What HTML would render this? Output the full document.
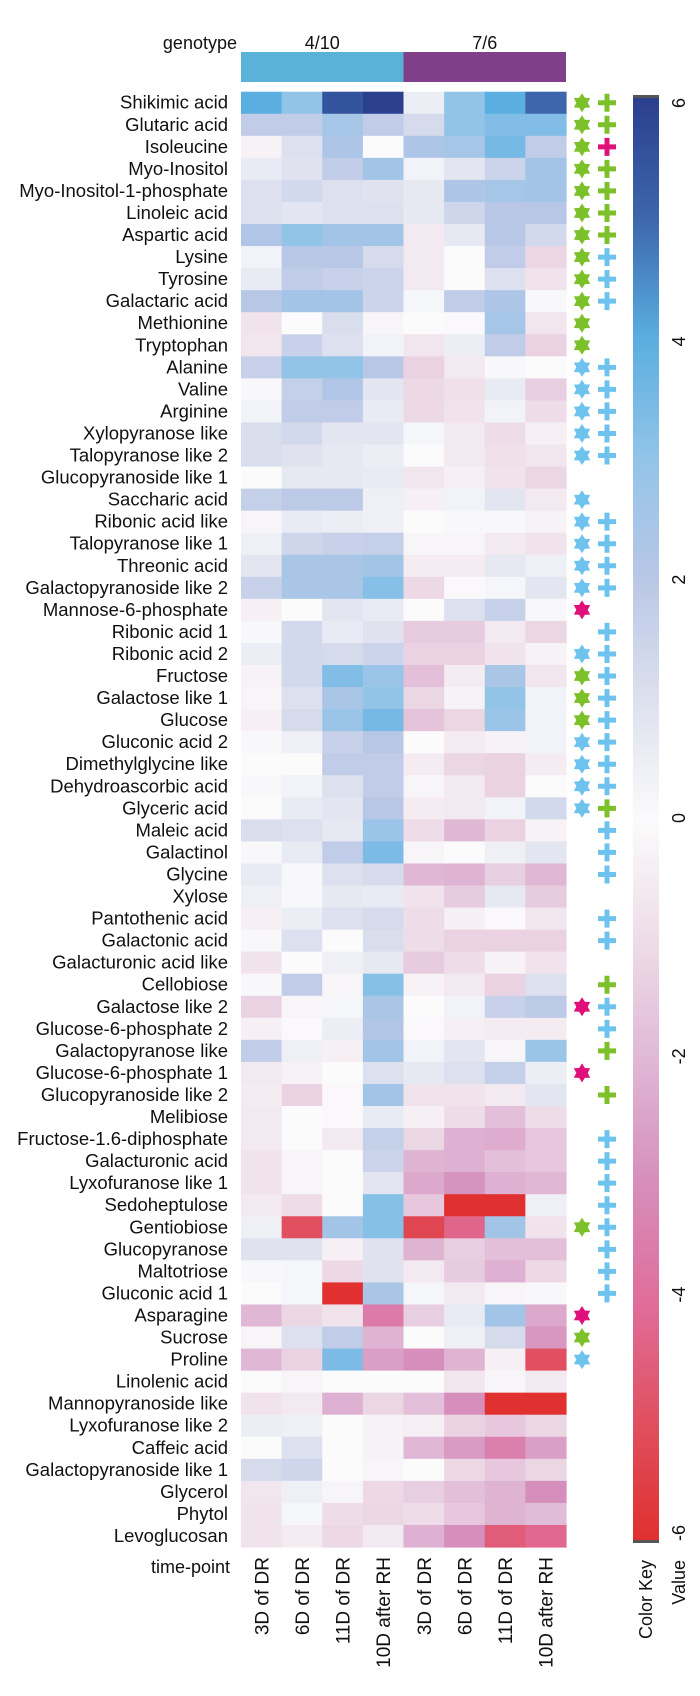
<!DOCTYPE html>
<html><head><meta charset="utf-8"><style>
html,body{margin:0;padding:0;background:#fff;width:700px;height:1696px;overflow:hidden}
svg{display:block;font-family:"Liberation Sans",Arial,sans-serif}
</style></head><body>
<svg id="chart" width="700" height="1696" viewBox="0 0 700 1696" xmlns="http://www.w3.org/2000/svg">
<defs>
<linearGradient id="cg" x1="0" y1="0" x2="0" y2="1">
<stop offset="0" stop-color="#2b3f8f"/>
<stop offset="0.0833" stop-color="#3d66ac"/>
<stop offset="0.1667" stop-color="#5aaee0"/>
<stop offset="0.25" stop-color="#92c4e8"/>
<stop offset="0.3333" stop-color="#b9c7e6"/>
<stop offset="0.4167" stop-color="#dde0ee"/>
<stop offset="0.5" stop-color="#fbfbfc"/>
<stop offset="0.5833" stop-color="#eedde8"/>
<stop offset="0.6667" stop-color="#e0b8d6"/>
<stop offset="0.75" stop-color="#d68fbc"/>
<stop offset="0.8333" stop-color="#e06e9c"/>
<stop offset="0.9167" stop-color="#e05060"/>
<stop offset="1" stop-color="#e03030"/>
</linearGradient>
</defs>
<g id="heat"></g>
<g id="labels"></g>
<g id="syms"></g>
<g id="cols"></g>
<g id="key"></g>
</svg>
<script>
const metabolites = ["Shikimic acid","Glutaric acid","Isoleucine","Myo-Inositol","Myo-Inositol-1-phosphate","Linoleic acid","Aspartic acid","Lysine","Tyrosine","Galactaric acid","Methionine","Tryptophan","Alanine","Valine","Arginine","Xylopyranose like","Talopyranose like 2","Glucopyranoside like 1","Saccharic acid","Ribonic acid like","Talopyranose like 1","Threonic acid","Galactopyranoside like 2","Mannose-6-phosphate","Ribonic acid 1","Ribonic acid 2","Fructose","Galactose like 1","Glucose","Gluconic acid 2","Dimethylglycine like","Dehydroascorbic acid","Glyceric acid","Maleic acid","Galactinol","Glycine","Xylose","Pantothenic acid","Galactonic acid","Galacturonic acid like","Cellobiose","Galactose like 2","Glucose-6-phosphate 2","Galactopyranose like","Glucose-6-phosphate 1","Glucopyranoside like 2","Melibiose","Fructose-1.6-diphosphate","Galacturonic acid","Lyxofuranose like 1","Sedoheptulose","Gentiobiose","Glucopyranose","Maltotriose","Gluconic acid 1","Asparagine","Sucrose","Proline","Linolenic acid","Mannopyranoside like","Lyxofuranose like 2","Caffeic acid","Galactopyranoside like 1","Glycerol","Phytol","Levoglucosan"];
const timepoints = ["3D of DR","6D of DR","11D of DR","10D after RH","3D of DR","6D of DR","11D of DR","10D after RH"];
const genotypes = ["4/10","7/6"];
const values = [
[4,3,5.5,6,0.5,3,4,5],
[1.8,1.8,2.5,1.8,1.2,3,3.3,3.3],
[-0.3,1,2.3,0,2.3,2.5,3.5,1.8],
[0.6,0.9,1.8,2.6,0.3,0.8,1.5,2.6],
[1,1.3,1,0.9,0.7,2.3,2.5,2.6],
[1,0.8,1,1,0.7,1.4,2,2],
[2.2,3,2.6,2.6,-0.6,0.7,2,1.3],
[0.3,2,2,1.2,-0.6,0,1.8,-1.2],
[0.6,1.8,1.6,1.5,-0.6,0,1,-0.8],
[2,2.6,2.6,1.5,0.2,1.8,2.3,0.1],
[-0.8,0,1.1,-0.2,0,-0.1,2.5,-0.7],
[-0.7,1.6,1,0.3,-0.7,0.5,1.8,-1.3],
[1.6,3,3,2,-1.3,-0.6,0.1,0],
[0.1,1.7,2.2,0.8,-1.1,-0.9,0.6,-1.4],
[0.3,1.8,1.8,0.6,-1.1,-0.8,0.3,-1],
[1.1,1.3,0.8,0.8,0.2,-0.6,-1,-0.4],
[1.1,0.9,0.7,0.5,0,-0.6,-0.9,-0.7],
[0,0.7,0.7,0.6,-0.7,-0.4,-0.8,-1.2],
[1.7,1.9,1.9,0.4,-0.4,0.3,0.8,-0.6],
[-0.2,0.6,0.5,0.4,0,0.1,0.1,-0.3],
[0.4,1.4,1.6,1.7,-0.2,-0.2,-0.6,-0.8],
[0.8,2.4,2.4,2.6,-0.5,-0.5,0.7,0.4],
[1.6,2.4,2.4,3.2,-1.1,-0.1,0.2,0.8],
[-0.4,0,0.8,0.6,0,1,1.6,0.1],
[0.1,1.3,0.6,0.9,-1.5,-1.5,-0.6,-1.2],
[0.5,1.3,1.2,1.5,-1.3,-1.3,-0.8,-0.3],
[-0.3,1.3,3.3,2.8,-1.8,-0.5,2.4,-0.7],
[-0.2,1,2.4,3,-1.2,-0.3,3,0.3],
[-0.4,1.2,2.8,3.5,-1.7,-1.2,2.8,0.3],
[0.1,0.4,1.6,2,0,-0.5,-0.3,0.3],
[0,0,1.8,1.8,-0.5,-1.2,-1.3,-0.5],
[0.1,0.3,1,1.8,-0.2,-0.6,-1.3,0],
[0,0.6,0.8,2,-0.5,-0.6,0.3,1.3],
[1.1,1,0.7,2.8,-1,-2,-1.3,-0.3],
[0.1,0.6,1.8,3.4,-0.2,0,0.4,0.8],
[0.6,0.1,1,1.2,-2,-2.1,-1.4,-2],
[0.4,0.1,0.7,0.6,-0.8,-1.5,0.7,-1.5],
[-0.4,0.5,1,1.2,-1,-0.4,-0.1,-0.7],
[0.1,1,0,1.1,-1,-1.3,-1.3,-1.3],
[-0.8,0,0.4,0.7,-1.5,-1,-0.3,-0.8],
[0.1,1.8,-0.2,3.2,-0.3,-0.6,-1.3,1],
[-1.3,-0.2,0.2,2.4,0,0.3,1.6,1.9],
[-0.4,-0.1,0.5,2.2,-0.1,-0.4,-0.5,-0.5],
[1.8,0.4,-0.4,2.6,0.3,0.8,-0.2,2.8],
[-0.6,-0.3,0,1,0.7,1,1.7,0.5],
[-0.5,-1.3,-0.1,2.6,-0.8,-0.8,-0.6,0.8],
[-0.6,0,-0.1,0.6,-0.4,-1,-1.8,-1],
[-0.6,0,-0.6,1.7,-1.2,-2.2,-2.3,-1.6],
[-0.8,-0.2,0,1.5,-2.1,-2.2,-1.8,-1.6],
[-0.8,-0.2,0,0.8,-2.4,-2.9,-2.2,-2],
[-0.6,-1,0,3.2,-1.6,-6,-6,0.4],
[0.4,-5,2.6,3.2,-5.3,-4.3,2.6,-0.8],
[0.9,0.9,-0.4,0.9,-2.1,-1.4,-1.8,-1.8],
[0.1,0.2,-1.1,0.9,-0.6,-1.5,-2.2,-1.1],
[0,0.2,-6,2.4,0.2,-0.6,-0.2,0.1],
[-2,-1.2,-0.8,-3.6,-1.4,0.6,2.6,-2.4],
[-0.2,1,1.8,-2.1,0,0.4,1.2,-2.8],
[-2,-1.3,3.4,-2.6,-3,-2.1,-0.4,-5],
[0,-0.2,0,0,0,-0.7,-0.2,-0.6],
[-0.8,-0.6,-2.2,-1.2,-1.8,-3,-6,-6],
[0.5,0.4,0,-0.3,-0.4,-1.3,-1.6,-1.2],
[0,1,0,-0.3,-2,-2.7,-3.5,-2.6],
[1.2,1.4,0,-0.2,0,-1.1,-1.6,-1.2],
[-0.7,0.4,-0.2,-1.1,-1.4,-1.8,-2.1,-3],
[-0.8,0.2,-1,-1.2,-1,-1.6,-2.1,-1.9],
[-0.8,-0.5,-1.1,-0.6,-2.2,-3,-4.6,-4.2]
];
const stars = "gggggggggggg bbbbb _ bbbbb m _ b ggg bbbb ________ m __ m ______ g ___ m g b ________".replace(/ /g,"").split("");
const pluses = "gg m gggg bbb __ bbbbb __ bbbb _ bbbbbbbb g bbb _ bb _ g bb g _ g _ bbbbbbbb ___________".replace(/ /g,"").split("");
const keyTicks = [6,4,2,0,-2,-4,-6];

const NS="http://www.w3.org/2000/svg";
const X0=241, X1=566, Y0=91.7, RH=22.05;
const CW=(X1-X0)/timepoints.length;
const xPos=i=>X0+i*CW;
const yPos=r=>Y0+r*RH;
const stops=[[6,[43,63,143]],[5,[61,102,172]],[4,[90,174,224]],[3,[146,196,232]],[2,[185,199,230]],[1,[221,224,238]],[0,[251,251,252]],[-1,[238,221,232]],[-2,[224,184,214]],[-3,[214,143,188]],[-4,[224,110,156]],[-5,[224,80,96]],[-6,[224,48,48]]];
function color(v){v=Math.max(-6,Math.min(6,v));for(let k=0;k<stops.length-1;k++){const a=stops[k],b=stops[k+1];if(v<=a[0]&&v>=b[0]){const t=(a[0]-v)/(a[0]-b[0]);const c=a[1].map((x,j)=>Math.round(x+(b[1][j]-x)*t));return `rgb(${c.join(",")})`;}}return "#fff";}
function mk(tag,attrs,parent){const e=document.createElementNS(NS,tag);for(const k in attrs)e.setAttribute(k,attrs[k]);parent.appendChild(e);return e;}
const svg=document.getElementById("chart");
const heat=document.getElementById("heat"),labels=document.getElementById("labels"),syms=document.getElementById("syms"),cols=document.getElementById("cols"),key=document.getElementById("key");

let t=mk("text",{x:237,y:49,"text-anchor":"end","font-size":18,fill:"#111"},svg);t.textContent="genotype";


const gcol=["#5ab2d8","#803f89"];
genotypes.forEach((g,i)=>{
  const gx=xPos(i*4), gw=CW*4;
  const r=mk("rect",{x:gx,y:52,width:gw,height:30,fill:gcol[i]},svg);
  
  
  const tt=mk("text",{x:gx+gw/2,y:49,"text-anchor":"middle","font-size":18,fill:"#111"},svg);tt.textContent=g;
  
  
});

values.forEach((row,r)=>{
  row.forEach((v,c)=>{
    const cell=mk("rect",{x:xPos(c),y:yPos(r),width:CW+0.6,height:RH+0.6,fill:color(v)},heat);
    
    
  });
  const lb=mk("text",{x:228,y:yPos(r)+RH/2+6,"text-anchor":"end","font-size":18.5,fill:"#111"},labels);
  lb.textContent=metabolites[r];
  
  
});

const symCol={g:"#7cc02a",b:"#6ec3ee",m:"#e0107a"};
function starPts(cx,cy,R){const p=[];for(let k=0;k<12;k++){const a=Math.PI/6*k-Math.PI/2;const rr=k%2?R*0.6:R;p.push((cx+rr*Math.cos(a)).toFixed(1)+","+(cy+rr*Math.sin(a)).toFixed(1));}return p.join(" ");}
metabolites.forEach((m,r)=>{
  const cy=yPos(r)+RH/2;
  const s=stars[r];
  if(s&&symCol[s]){
    const st=mk("polygon",{points:starPts(582,cy,9.5),fill:symCol[s]},syms);
    
    
  }
  const p=pluses[r];
  if(p&&symCol[p]){
    const pl=mk("path",{d:`M598,${cy}h18M607,${cy-9}v18`,stroke:symCol[p],"stroke-width":5,fill:"none"},syms);
    
    
  }
});

timepoints.forEach((tp,c)=>{
  const cx=xPos(c)+CW/2+7;
  const tl=mk("text",{x:0,y:0,transform:`translate(${cx},1557) rotate(-90)`,"text-anchor":"end","font-size":19,fill:"#111"},cols);
  tl.textContent=tp;
  
  
});
t=mk("text",{x:230,y:1573,"text-anchor":"end","font-size":18,fill:"#111"},cols);t.textContent="time-point";



const KY0=103,KY1=1533;
const ky=v=>KY0+(6-v)/12*(KY1-KY0);
let kb=mk("rect",{x:633,y:95,width:26,height:1448,fill:"#555"},key);


kb=mk("rect",{x:633,y:98,width:26,height:1442,fill:"url(#cg)"},key);


keyTicks.forEach(v=>{
  const kt=mk("text",{x:0,y:0,transform:`translate(685,${ky(v)}) rotate(-90)`,"text-anchor":"middle","font-size":18,fill:"#111"},key);
  kt.textContent=String(v);
  
  
});
t=mk("text",{x:0,y:0,transform:"translate(652,1560) rotate(-90)","text-anchor":"end","font-size":18,fill:"#111"},key);t.textContent="Color Key";


t=mk("text",{x:0,y:0,transform:"translate(685,1560) rotate(-90)","text-anchor":"end","font-size":18,fill:"#111"},key);t.textContent="Value";


</script>
</body></html>
